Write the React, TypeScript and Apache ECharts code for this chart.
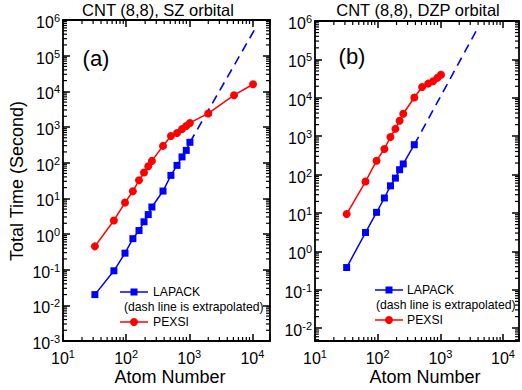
import React, { useEffect, useRef } from "react";
import * as echarts from "echarts";

const FONT = "'Liberation Sans', Arial, sans-serif";
const BLUE = "#0000ff";
const RED = "#ff0000";

// Panel (a): CNT (8,8), SZ orbital
const lapackAtomsA = [32, 64, 96, 128, 160, 192, 224, 256, 384, 512, 640, 768, 896, 1024];
const lapackTimeA = [0.02, 0.093, 0.29, 0.74, 1.25, 2.2, 3.5, 5.7, 16, 44, 84, 145, 221, 372];
const lapackExtrapAtomsA = [1024, 11000];
const lapackExtrapTimeA = [372, 560000];
const pexsiAtomsA = [32, 64, 96, 128, 160, 192, 224, 256, 384, 512, 640, 768, 896, 1024, 2000, 5120, 10240];
const pexsiTimeA = [0.45, 2.4, 7.6, 15.8, 32, 53, 79, 112, 295, 560, 680, 870, 1070, 1300, 2400, 7800, 15800];

// Panel (b): CNT (8,8), DZP orbital
const lapackAtomsB = [32, 64, 96, 128, 160, 192, 224, 256, 384];
const lapackTimeB = [0.38, 3.1, 10.4, 24.6, 51, 81, 134, 189, 600];
const lapackExtrapAtomsB = [384, 4096];
const lapackExtrapTimeB = [600, 728000];
const pexsiAtomsB = [32, 64, 96, 128, 160, 192, 224, 256, 384, 512, 640, 768, 896, 1024];
const pexsiTimeB = [9.4, 66, 230, 464, 955, 1550, 2520, 3850, 10200, 19100, 23400, 27000, 33000, 40000];

// Axis ranges
const xMinA = 10, xMaxA = 19000;
const xMinB = 10, xMaxB = 18000;
const yMinA = 1e-3, yMaxA = 1e6;
const yMinB = 4.64e-3, yMaxB = 1e6;

const titles = ["CNT (8,8), SZ orbital", "CNT (8,8), DZP orbital"];
const panelLabels = ["(a)", "(b)"];
const legendNames = ["LAPACK", "(dash line is extrapolated)", "PEXSI"];

function minorValues(min: number, max: number): number[] {
  const out: number[] = [];
  for (let k = -4; k <= 6; k++) {
    for (let m = 2; m <= 9; m++) {
      const v = m * Math.pow(10, k);
      if (v > min * 1.0001 && v < max * 0.9999) out.push(v);
    }
  }
  return out;
}

const zip = (a: number[], b: number[]) => a.map((v, i) => [v, b[i]]);

const fmt = (v: number) => {
  const e = Math.log10(v);
  const r = Math.round(e);
  if (Math.abs(e - r) > 1e-6) return "";
  return `{a|10}{b|${r}}`;
};

const rich = {
  a: { fontSize: 16, fontFamily: FONT, color: "#000", lineHeight: 20 },
  b: { fontSize: 11, fontFamily: FONT, color: "#000", lineHeight: 8, verticalAlign: "top" },
};

function xAxes(grid: number, min: number, max: number) {
  const base = {
    type: "log",
    logBase: 10,
    gridIndex: grid,
    min,
    max,
    splitNumber: 5,
    splitLine: { show: false },
    axisLine: { show: true, lineStyle: { color: "#000", width: 1.8 } },
    axisTick: { show: true, inside: true, length: 7, lineStyle: { color: "#000", width: 1.5 } },
  };
  return [
    {
      ...base,
      position: "bottom",
      axisLabel: { show: true, margin: 7, formatter: fmt, rich, color: "#000" },
    },
    { ...base, position: "top", axisLabel: { show: false } },
  ];
}

function yAxes(grid: number, min: number, max: number) {
  const base = {
    type: "log",
    logBase: 10,
    gridIndex: grid,
    min,
    max,
    splitNumber: 10,
    splitLine: { show: false },
    axisLine: { show: true, lineStyle: { color: "#000", width: 1.8 } },
    axisTick: { show: true, inside: true, length: 7, lineStyle: { color: "#000", width: 1.5 } },
  };
  return [
    {
      ...base,
      position: "left",
      axisLabel: { show: true, margin: 3, padding: [5, 0, 0, 0], formatter: fmt, rich, color: "#000" },
    },
    { ...base, position: "right", axisLabel: { show: false } },
  ];
}

function minorTickSeries(axisIdx: number, values: number[], dim: "x" | "y", dummy: number) {
  return {
    type: "custom",
    xAxisIndex: axisIdx,
    yAxisIndex: axisIdx,
    silent: true,
    clip: false,
    z: 1,
    data: values.map((v) => (dim === "x" ? [v, dummy] : [dummy, v])),
    renderItem: (params: any, api: any) => {
      const cs = params.coordSys;
      const p = api.coord([api.value(0), api.value(1)]);
      const L = 4;
      const style = { stroke: "#000", lineWidth: 1.2 };
      if (dim === "x") {
        return {
          type: "group",
          children: [
            { type: "line", shape: { x1: p[0], y1: cs.y + cs.height, x2: p[0], y2: cs.y + cs.height - L }, style },
            { type: "line", shape: { x1: p[0], y1: cs.y, x2: p[0], y2: cs.y + L }, style },
          ],
        };
      }
      return {
        type: "group",
        children: [
          { type: "line", shape: { x1: cs.x, y1: p[1], x2: cs.x + L, y2: p[1] }, style },
          { type: "line", shape: { x1: cs.x + cs.width, y1: p[1], x2: cs.x + cs.width - L, y2: p[1] }, style },
        ],
      };
    },
  };
}

function dataSeries(axisIdx: number, lapack: number[][], extrap: number[][], pexsi: number[][]) {
  return [
    {
      type: "line",
      xAxisIndex: axisIdx,
      yAxisIndex: axisIdx,
      data: extrap,
      symbol: "none",
      lineStyle: { color: BLUE, width: 1.6, type: [9, 6] },
      z: 3,
    },
    {
      type: "line",
      xAxisIndex: axisIdx,
      yAxisIndex: axisIdx,
      data: lapack,
      symbol: "rect",
      symbolSize: 7,
      itemStyle: { color: BLUE },
      lineStyle: { color: BLUE, width: 1.5 },
      z: 4,
    },
    {
      type: "line",
      xAxisIndex: axisIdx,
      yAxisIndex: axisIdx,
      data: pexsi,
      symbol: "circle",
      symbolSize: 8,
      itemStyle: { color: RED },
      lineStyle: { color: RED, width: 1.5 },
      z: 4,
    },
  ];
}

function legendGraphic(lineX: number, textX: number, dashX: number, y0: number) {
  const y1 = y0;
  const y2 = y0 + 15;
  const y3 = y0 + 30;
  const ts = { fontSize: 12.2, fontFamily: FONT, fill: "#000", textVerticalAlign: "middle", textAlign: "left" };
  const mid = lineX + 14;
  return [
    { type: "line", shape: { x1: lineX, y1, x2: lineX + 28, y2: y1 }, style: { stroke: BLUE, lineWidth: 1.5 }, z: 10 },
    { type: "rect", shape: { x: mid - 3.5, y: y1 - 3.5, width: 7, height: 7 }, style: { fill: BLUE }, z: 10 },
    { type: "text", x: textX, y: y1, style: { ...ts, text: legendNames[0] }, z: 10 },
    { type: "text", x: dashX, y: y2, style: { ...ts, text: legendNames[1] }, z: 10 },
    { type: "line", shape: { x1: lineX, y1: y3, x2: lineX + 28, y2: y3 }, style: { stroke: RED, lineWidth: 1.5 }, z: 10 },
    { type: "circle", shape: { cx: mid, cy: y3, r: 4 }, style: { fill: RED }, z: 10 },
    { type: "text", x: textX, y: y3, style: { ...ts, text: legendNames[2] }, z: 10 },
  ];
}

export default function App() {
  const ref = useRef<HTMLDivElement>(null);
  useEffect(() => {
    if (!ref.current) return;
    const chart = echarts.init(ref.current, undefined, { renderer: "svg" });
    const titleStyle = { fontSize: 16.5, fontFamily: FONT, fill: "#000", textAlign: "center", textVerticalAlign: "middle" };
    const nameStyle = { fontSize: 18, fontFamily: FONT, fill: "#000", textAlign: "center", textVerticalAlign: "middle" };
    const panelStyle = { fontSize: 22, fontFamily: FONT, fill: "#000", textAlign: "center", textVerticalAlign: "middle" };
    chart.setOption({
      animation: false,
      backgroundColor: "#fff",
      grid: [
        { left: 63, top: 20, width: 207, height: 321 },
        { left: 315, top: 21, width: 206, height: 320 },
      ],
      xAxis: [...xAxes(0, xMinA, xMaxA), ...xAxes(1, xMinB, xMaxB)],
      yAxis: [...yAxes(0, yMinA, yMaxA), ...yAxes(1, yMinB, yMaxB)],
      series: [
        minorTickSeries(0, minorValues(xMinA, xMaxA), "x", 1),
        minorTickSeries(0, minorValues(yMinA, yMaxA), "y", 100),
        minorTickSeries(2, minorValues(xMinB, xMaxB), "x", 1),
        minorTickSeries(2, minorValues(yMinB, yMaxB), "y", 100),
        ...dataSeries(0, zip(lapackAtomsA, lapackTimeA), zip(lapackExtrapAtomsA, lapackExtrapTimeA), zip(pexsiAtomsA, pexsiTimeA)),
        ...dataSeries(2, zip(lapackAtomsB, lapackTimeB), zip(lapackExtrapAtomsB, lapackExtrapTimeB), zip(pexsiAtomsB, pexsiTimeB)),
      ],
      graphic: [
        { type: "text", x: 158, y: 10, style: { ...titleStyle, text: titles[0] } },
        { type: "text", x: 418, y: 10, style: { ...titleStyle, text: titles[1] } },
        { type: "text", x: 96, y: 58, style: { ...panelStyle, text: panelLabels[0] } },
        { type: "text", x: 352, y: 56, style: { ...panelStyle, text: panelLabels[1] } },
        { type: "text", x: 17, y: 181, rotation: Math.PI / 2, style: { ...nameStyle, text: "Total Time (Second)" } },
        { type: "text", x: 170, y: 377, style: { ...nameStyle, text: "Atom Number" } },
        { type: "text", x: 425, y: 377, style: { ...nameStyle, text: "Atom Number" } },
        ...legendGraphic(120, 153, 124, 292),
        ...legendGraphic(375, 407, 376, 290),
      ],
    });
    return () => chart.dispose();
  }, []);
  return <div ref={ref} style={{ position: "fixed", left: 0, top: 0, width: 522, height: 390 }} />;
}
